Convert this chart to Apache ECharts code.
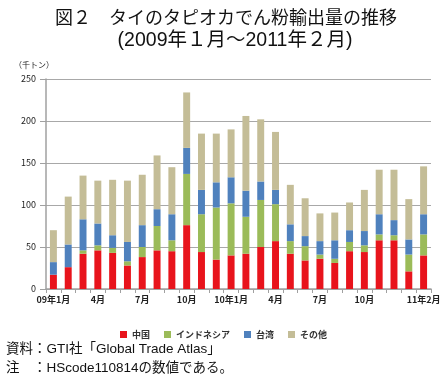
<!DOCTYPE html>
<html><head><meta charset="utf-8">
<script src="https://cdn.jsdelivr.net/npm/echarts@6/dist/echarts.min.js"></script>
<style>html,body{margin:0;padding:0;background:#fff}#c{width:447px;height:387px}</style>
</head><body><div id="c"></div>
<script>
var months = ["09年1月","2月","3月","4月","5月","6月","7月","8月","9月","10月","11月","12月",
  "10年1月","2月","3月","4月","5月","6月","7月","8月","9月","10月","11月","12月","11年1月","11年2月"];
var shownLabels = [0,3,6,9,12,15,18,21,25];
var china     = [17,26,42,46,43,28,38,46,45,76,44,35,40,42,50,57,42,34,36,31,45,44,58,58,21,40];
var indonesia = [0,0,4,6,6,5,12,29,13,61,45,62,62,44,56,44,15,17,5,5,11,8,7,6,20,25];
var taiwan    = [15,27,37,26,15,23,26,20,31,31,29,30,31,31,22,17,20,12,16,22,14,17,24,18,18,24];
var others    = [38,57,52,51,66,73,60,64,56,66,67,58,57,89,74,69,47,45,33,33,33,49,53,60,48,57];
var yTicks = {min:0, max:250, interval:50};
var names = ["中国","インドネシア","台湾","その他"];
var colors = ["#E8141C","#9BBB59","#4F81BD","#C4BD97"];
var F = "'Noto Sans CJK JP', sans-serif";
var FL = "'Liberation Sans', 'Noto Sans CJK JP', sans-serif";
var chart = echarts.init(document.getElementById('c'));
function mk(i, d){ return {name:names[i], type:'bar', stack:'t', data:d, barWidth:'47%',
  itemStyle:{color:colors[i]}}; }
chart.setOption({
  animation:false,
  textStyle:{fontFamily:F},
  title:[
    {text:"図２　タイのタピオカでん粉輸出量の推移", left:221, top:3, textAlign:'center',
     textStyle:{fontFamily:F, fontSize:18, fontWeight:'normal', color:'#111'}},
    {text:"(2009年１月～2011年２月)", left:230, top:26, textAlign:'center',
     textStyle:{fontFamily:FL, fontSize:19.5, fontWeight:'normal', color:'#111'}}
  ],
  grid:{left:46, right:16, top:79, bottom:98},
  legend:{data:names, left:'center', top:325, itemWidth:7, itemHeight:7, itemGap:14, icon:'rect',
    textStyle:{fontFamily:F, fontSize:9, fontWeight:'bold', color:'#333'}},
  xAxis:{type:'category', data:months,
    axisLine:{lineStyle:{color:'#a0a0a0', width:1.5}},
    axisTick:{show:true, interval:0, length:4, lineStyle:{color:'#a0a0a0'}},
    axisLabel:{interval:function(i){return shownLabels.indexOf(i)>=0;}, fontFamily:F, fontSize:9,
      fontWeight:'bold', color:'#222', margin:6}},
  yAxis:{type:'value', min:yTicks.min, max:yTicks.max, interval:yTicks.interval,
    name:"（千トン）", nameLocation:'end', nameGap:10,
    nameTextStyle:{fontFamily:F, fontSize:8, color:'#222', align:'right', padding:[0,-8,0,0]},
    axisLine:{show:true, lineStyle:{color:'#a0a0a0', width:1.5}},
    axisTick:{show:true, length:6, lineStyle:{color:'#a0a0a0'}},
    axisLabel:{fontFamily:F, fontSize:9, color:'#222', margin:10},
    splitLine:{lineStyle:{color:'#a8a8a8', width:1.2}}},
  graphic:[
    {type:'text', left:6, top:343, style:{text:"資料：GTI社「Global Trade Atlas」", fontFamily:FL, fontSize:13.5, fill:'#111'}},
    {type:'text', left:6, top:362, style:{text:"注　：HScode110814の数値である。", fontFamily:FL, fontSize:13.5, fill:'#111'}}
  ],
  series:[mk(0,china), mk(1,indonesia), mk(2,taiwan), mk(3,others)]
});
</script></body></html>
